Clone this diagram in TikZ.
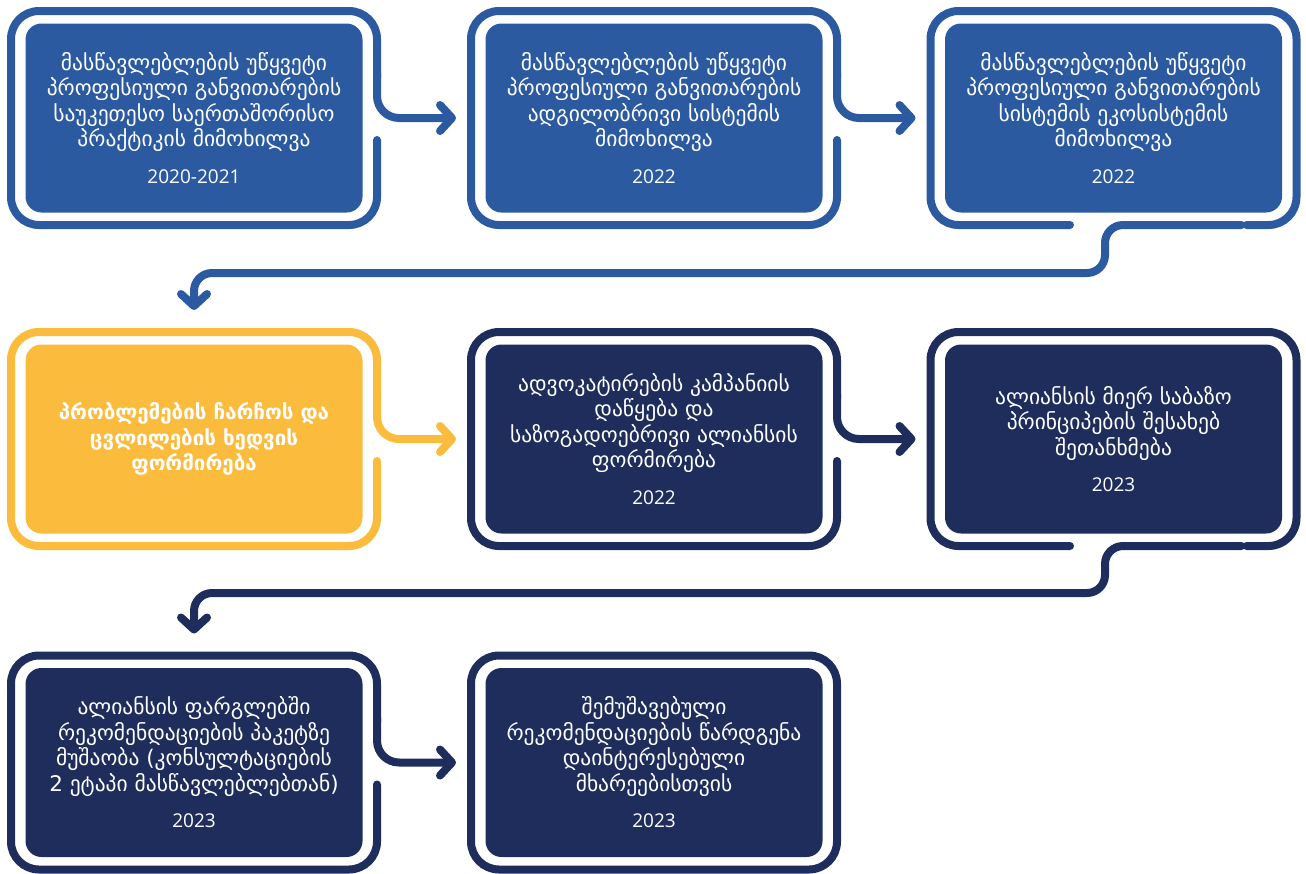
\documentclass[tikz,border=0pt]{standalone}
\usepackage{fontspec}
\newfontfamily\geofont{DejaVu Sans}
\newfontfamily\yearfont{Open Sans}
\usetikzlibrary{calc,arrows.meta}
\definecolor{cblue}{HTML}{2C5AA0}
\definecolor{cnavy}{HTML}{1E2D5B}
\definecolor{cyellow}{HTML}{FBBC3E}
\tikzset{
  framenode/.style={minimum width=366pt, minimum height=214pt, inner sep=0pt, outer sep=0pt},
  innerbox/.style={fill=#1, rounded corners=16pt, minimum width=337pt, minimum height=189pt,
    inner sep=0pt, text=white, align=center, font=\geofont\fontsize{21.5}{25.5}\selectfont},
  frameline/.style={draw=#1, line width=8pt, line cap=round, line join=round, rounded corners=28pt},
  conn/.style={draw=#1, line width=8pt, line cap=round, line join=round, rounded corners=22pt,
    -{Straight Barb[length=12pt,width=26pt,round]}}
}
\newcommand\yeartext[1]{{\yearfont\fontsize{19}{25.5}\selectfont #1}}
\begin{document}
\begin{tikzpicture}[x=1pt,y=-1pt]
\useasboundingbox (0,0) rectangle (1306,873);
% frame placeholders
\node[framenode] (f1) at (194,118) {};
\node[framenode] (f2) at (654,118) {};
\node[framenode] (f3) at (1113.5,118) {};
\node[framenode] (f4) at (194,439) {};
\node[framenode] (f5) at (654,439) {};
\node[framenode] (f6) at (1113.5,439) {};
\node[framenode] (f7) at (194,762.5) {};
\node[framenode] (f8) at (654,762.5) {};
% arrow end coordinates
\coordinate (a1) at ($(f2.west)+(-15,0)$);
\coordinate (a2) at ($(f3.west)+(-15,0)$);
\coordinate (a3) at ($(f4.north)+(0,-22)$);
\coordinate (a4) at ($(f5.west)+(-15,0)$);
\coordinate (a5) at ($(f6.west)+(-15,0)$);
\coordinate (a6) at ($(f7.north)+(0,-22)$);
\coordinate (a7) at ($(f8.west)+(-15,0)$);
% inner boxes
\node[innerbox=cblue] (b1) at (f1.center) {მასწავლებლების უწყვეტი\\პროფესიული განვითარების\\საუკეთესო საერთაშორისო\\პრაქტიკის მიმოხილვა\\[11pt]\yeartext{2020-2021}};
\node[innerbox=cblue] (b2) at (f2.center) {მასწავლებლების უწყვეტი\\პროფესიული განვითარების\\ადგილობრივი სისტემის\\მიმოხილვა\\[11pt]\yeartext{2022}};
\node[innerbox=cblue] (b3) at (f3.center) {მასწავლებლების უწყვეტი\\პროფესიული განვითარების\\სისტემის ეკოსისტემის\\მიმოხილვა\\[11pt]\yeartext{2022}};
\node[innerbox=cyellow, font=\geofont\bfseries\fontsize{20.5}{25.5}\selectfont] (b4) at (f4.center) {პრობლემების ჩარჩოს და\\ცვლილების ხედვის\\ფორმირება};
\node[innerbox=cnavy] (b5) at (f5.center) {ადვოკატირების კამპანიის\\დაწყება და\\საზოგადოებრივი ალიანსის\\ფორმირება\\[11pt]\yeartext{2022}};
\node[innerbox=cnavy] (b6) at (f6.center) {ალიანსის მიერ საბაზო\\პრინციპების შესახებ\\შეთანხმება\\[11pt]\yeartext{2023}};
\node[innerbox=cnavy] (b7) at (f7.center) {ალიანსის ფარგლებში\\რეკომენდაციების პაკეტზე\\მუშაობა (კონსულტაციების\\2 ეტაპი მასწავლებლებთან)\\[11pt]\yeartext{2023}};
\node[innerbox=cnavy] (b8) at (f8.center) {შემუშავებული\\რეკომენდაციების წარდგენა\\დაინტერესებული\\მხარეებისთვის\\[11pt]\yeartext{2023}};
% frames with right exits
\foreach \f/\c in {f1/cblue,f2/cblue,f4/cyellow,f5/cnavy,f7/cnavy}{
  \draw[frameline=\c] ($(\f.east)+(0,22)$) -- (\f.south east) -- (\f.south west) -- (\f.north west) -- (\f.north east) -- ($(\f.east)+(0,-40)$);
}
% frames with bottom exits
\foreach \f/\c in {f3/cblue,f6/cnavy}{
  \draw[frameline=\c] ($(\f.south)+(-43.5,0)$) -- (\f.south west) -- (\f.north west) -- (\f.north east) -- (\f.south east) -- ($(\f.south east)+(-50,0)$);
}
% closed frame
\draw[frameline=cnavy] (f8.south west) rectangle (f8.north east);
% connectors
\draw[conn=cblue] ($(f1.east)+(0,-45)$) -- (f1.east) -- (a1);
\draw[conn=cblue] ($(f2.east)+(0,-45)$) -- (f2.east) -- (a2);
\draw[conn=cblue, rounded corners=18pt] ($(f3.south east)+(-55,0)$) -- ($(f3.south)+(-8.5,0)$) -- ++(0,48) coordinate (w1) -- (w1 -| f4.north) -- (a3);
\draw[conn=cyellow] ($(f4.east)+(0,-45)$) -- (f4.east) -- (a4);
\draw[conn=cnavy] ($(f5.east)+(0,-45)$) -- (f5.east) -- (a5);
\draw[conn=cnavy, rounded corners=18pt] ($(f6.south east)+(-55,0)$) -- ($(f6.south)+(-8.5,0)$) -- ++(0,47) coordinate (w2) -- (w2 -| f7.north) -- (a6);
\draw[conn=cnavy] ($(f7.east)+(0,-45)$) -- (f7.east) -- (a7);
\end{tikzpicture}
\end{document}
